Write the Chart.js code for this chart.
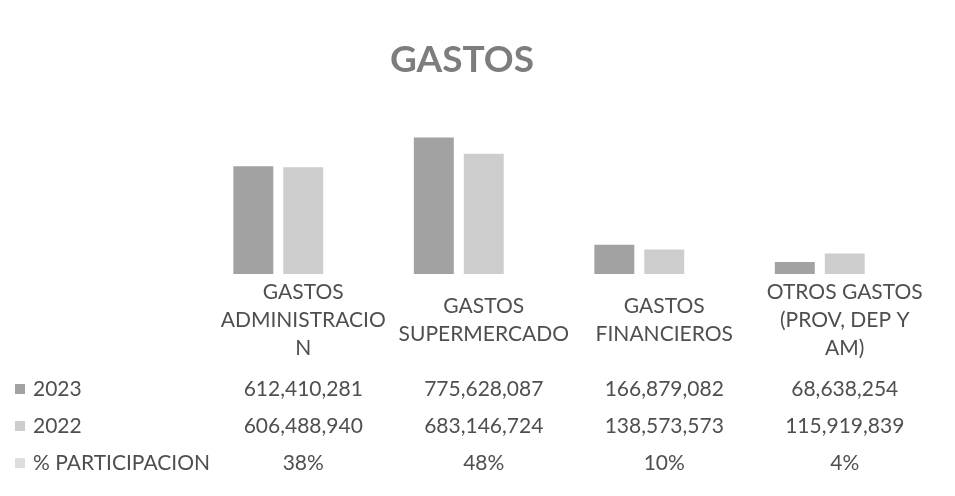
<!DOCTYPE html>
<html>
<head>
<meta charset="utf-8">
<script src="https://cdn.jsdelivr.net/npm/chart.js@4.4.1/dist/chart.umd.min.js"></script>
<style>
  html, body { margin: 0; padding: 0; background: #fff; }
  #wrap { width: 955px; height: 496px; }
</style>
</head>
<body>
<div id="wrap"><canvas id="gastosChart"></canvas></div>
<script>
// categories (wrapped the way the Excel data table shows them)
const categories = [
    ['GASTOS', 'ADMINISTRACIO', 'N'],
    ['GASTOS', 'SUPERMERCADO'],
    ['GASTOS', 'FINANCIEROS'],
    ['OTROS GASTOS', '(PROV, DEP Y', 'AM)']
];
const gastos2023 = [612410281, 775628087, 166879082, 68638254];
const gastos2022 = [606488940, 683146724, 138573573, 115919839];
const participacion = [38, 48, 10, 4]; // percent

const seriesNames = ['2023', '2022', '% PARTICIPACION'];
const seriesColors = ['#a2a2a2', '#cdcdcd', '#dedede'];
const textColor = '#4f4f4f';
const textFont = '21px Lato, "Open Sans", sans-serif';

// title + data table under the bars (Excel style)
const dataTablePlugin = {
    id: 'dataTable',
    afterDraw(chart) {
        const ctx = chart.ctx;
        const x = chart.scales.x;
        ctx.save();

        // title
        ctx.fillStyle = '#7d7d7d';
        ctx.font = 'bold 37px Lato, "Open Sans", sans-serif';
        ctx.textAlign = 'center';
        ctx.textBaseline = 'alphabetic';
        ctx.fillText('GASTOS', 462, 72);

        ctx.fillStyle = textColor;
        ctx.font = textFont;
        ctx.textBaseline = 'middle';

        // category headers, centered vertically
        categories.forEach((lines, i) => {
            const cx = x.getPixelForValue(i);
            lines.forEach((line, j) => {
                const cy = 320 + (j - (lines.length - 1) / 2) * 28;
                ctx.fillText(line, cx, cy);
            });
        });

        const rows = [
            gastos2023.map(v => v.toLocaleString('en-US')),
            gastos2022.map(v => v.toLocaleString('en-US')),
            participacion.map(v => v + '%')
        ];
        const rowY = [389, 426, 463];

        rows.forEach((row, r) => {
            // legend key + row label
            ctx.fillStyle = seriesColors[r];
            ctx.fillRect(15, rowY[r] - 5, 10, 10);
            ctx.fillStyle = textColor;
            ctx.textAlign = 'left';
            ctx.fillText(seriesNames[r], 33, rowY[r]);
            ctx.textAlign = 'center';
            row.forEach((txt, i) => {
                ctx.fillText(txt, x.getPixelForValue(i), rowY[r]);
            });
        });
        ctx.restore();
    }
};

const ctx = document.querySelector('#gastosChart').getContext('2d');
const chart = new Chart(ctx, {
    type: 'bar',
    data: {
        labels: categories,
        datasets: [{
            label: seriesNames[0],
            data: gastos2023,
            backgroundColor: seriesColors[0]
        }, {
            label: seriesNames[1],
            data: gastos2022,
            backgroundColor: seriesColors[1]
        }, {
            // share as a fraction: too small to show next to the amounts
            label: seriesNames[2],
            data: participacion.map(v => v / 100),
            backgroundColor: seriesColors[2]
        }]
    },
    options: {
        responsive: true,
        maintainAspectRatio: false,
        animation: false,
        categoryPercentage: 0.83,
        barPercentage: 0.8,
        layout: {
            padding: { left: 213, right: 20, top: 98, bottom: 222 }
        },
        scales: {
            x: { display: false },
            y: { display: false, min: 0, max: 1000000000 }
        },
        plugins: {
            legend: { display: false },
            tooltip: { enabled: false },
            title: { display: false }
        }
    },
    plugins: [dataTablePlugin]
});
</script>
</body>
</html>
